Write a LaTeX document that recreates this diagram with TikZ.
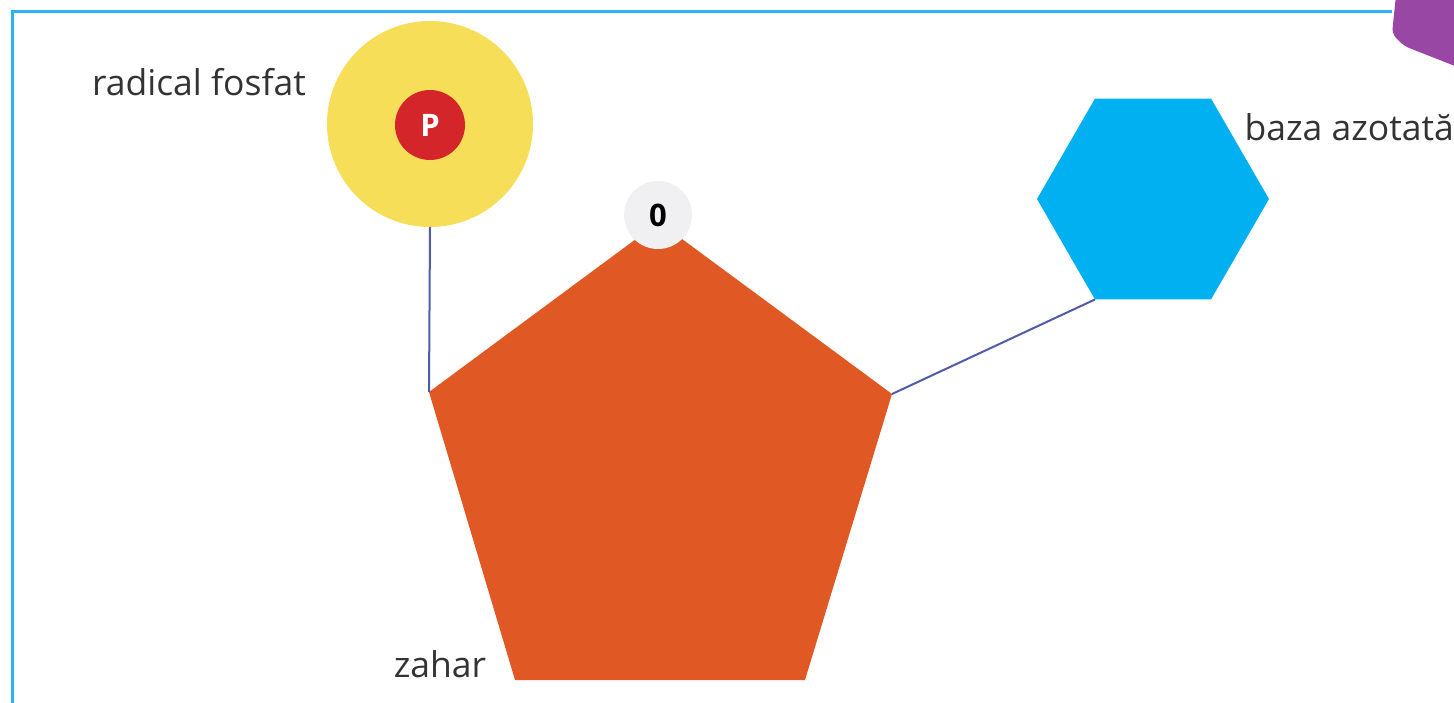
\documentclass[tikz,border=0pt]{standalone}
\usepackage{fontspec}
\setmainfont{Open Sans}
\usepackage{tikz}
\usetikzlibrary{calc,shapes.geometric}
\definecolor{framecol}{RGB}{41,182,240}
\definecolor{sunny}{RGB}{246,222,88}
\definecolor{ruby}{RGB}{212,38,42}
\definecolor{rust}{RGB}{224,89,36}
\definecolor{sky}{RGB}{0,176,240}
\definecolor{ink}{RGB}{80,92,170}
\definecolor{pale}{RGB}{240,240,242}
\definecolor{grape}{RGB}{152,72,164}

\begin{document}
\begin{tikzpicture}[x=1pt,y=-1pt,
    lbl/.style={font=\fontsize{35.5}{40}\selectfont,text=black!80},
    bond/.style={ink,line width=2pt},
    ring/.style={regular polygon,inner sep=0pt,outer sep=0pt}]
        \useasboundingbox (0,0) rectangle (1454,703);
        \draw[framecol,line width=3pt] (1392,12) -- (12,12) -- (12,710);
        \fill[grape,rounded corners=6pt] (1396,-5) -- (1392,34) -- (1404,46) -- (1460,68) -- (1460,-5) -- cycle;
        % sugar corners
        \coordinate (zt) at (659,222);
        \coordinate (zl) at (429,392);
        \coordinate (zr) at (892,394);
        \coordinate (zbl) at (515,680);
        \coordinate (zbr) at (805,680);
        \fill[rust] (zt) -- (zr) -- (zbr) -- (zbl) -- (zl) -- cycle;
        \node[circle,fill=sunny,minimum size=206pt,inner sep=0pt,outer sep=0pt] (fosfat) at (430,124) {};
        \node[circle,fill=ruby,minimum size=70pt,inner sep=0pt,text=white,font=\fontsize{31}{34}\selectfont\bfseries] (p) at (430,125) {P};
        \node[circle,fill=pale,minimum size=68pt,inner sep=0pt,font=\fontsize{31}{34}\selectfont\bfseries] (o) at (658,215) {0};
        \node[ring,regular polygon sides=6,fill=sky,minimum size=232pt] (baza) at (1153,199) {};
        \draw[bond] (fosfat.south) -- (zl);
        \draw[bond] (zr) -- (baza.240);
        \node[lbl] (tf) at (199,82) {radical fosfat};
        \node[lbl,anchor=west] (tb) at (1241,127) {baza azotată};
        \node[lbl] (tz) at (440,664) {zahar};
    \end{tikzpicture}
\end{document}
